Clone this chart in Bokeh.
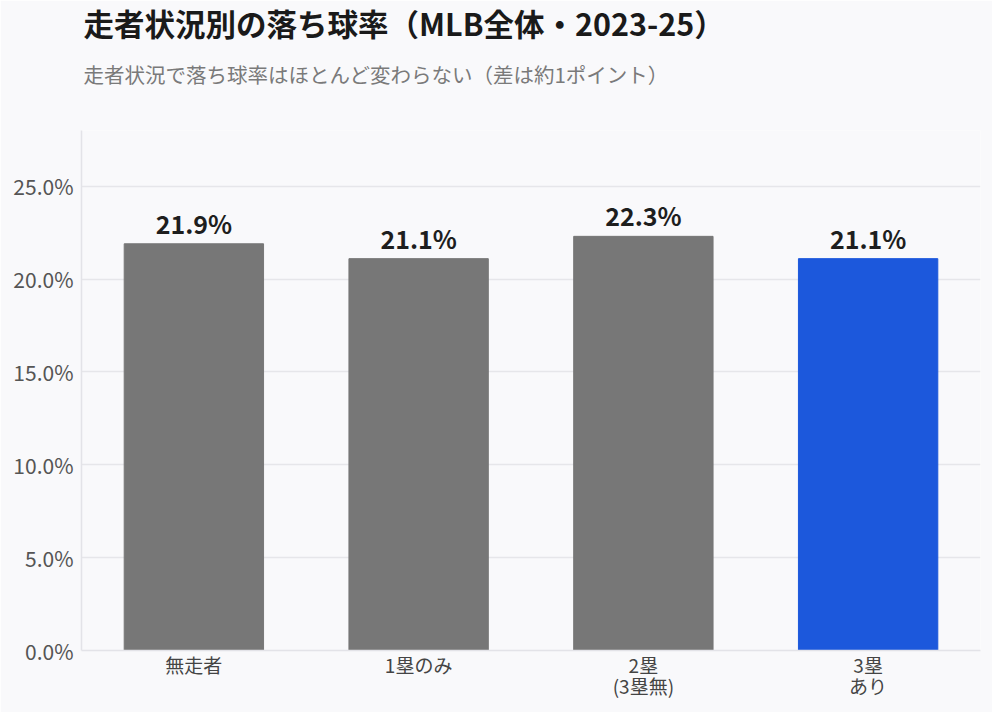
from bokeh.plotting import figure
from bokeh.models import ColumnDataSource, FixedTicker, PrintfTickFormatter, Title, Range1d
from bokeh.embed import file_html
from bokeh.resources import INLINE
from bokeh.core.properties import value

categories = ["無走者", "1塁のみ", "2塁\n(3塁無)", "3塁\nあり"]
rates = [21.9, 21.1, 22.3, 21.1]
colors = ["#777777", "#777777", "#777777", "#1c58dc"]
labels = ["21.9%", "21.1%", "22.3%", "21.1%"]
y_ticks = [0, 5, 10, 15, 20, 25]

title_text = "走者状況別の落ち球率（MLB全体・2023-25）"
subtitle_text = "走者状況で落ち球率はほとんど変わらない（差は約1ポイント）"

FONT = "Noto Sans CJK JP"
BG = "#f9f9fb"

src = ColumnDataSource(dict(cat=categories, rate=rates, color=colors, label=labels))

p = figure(x_range=categories, y_range=Range1d(0, 28), width=992, height=712,
           output_backend="svg", toolbar_location=None, title=None,
           min_border_left=81, min_border_right=12, min_border_bottom=62,
           min_border_top=0)
p.background_fill_color = BG
p.border_fill_color = BG
p.outline_line_color = None

# spacer between subtitle and plot frame
p.add_layout(Title(text=" ", text_font=FONT, text_font_size="1px",
                   text_color=BG, standoff=25), "above")
p.add_layout(Title(text=subtitle_text, text_font=FONT, text_font_size="20.5px",
                   text_color="#7a7a7a", text_font_style="normal", offset=2, standoff=28), "above")
p.add_layout(Title(text=title_text, text_font=FONT, text_font_size="30.5px",
                   text_color="#1a1a1a", text_font_style="bold", offset=2, standoff=-4), "above")

p.vbar(x="cat", top="rate", width=0.62, color="color", source=src)
p.text(x="cat", y="rate", text="label", source=src, text_align="center",
       text_baseline="bottom", y_offset=-3, text_font=value(FONT),
       text_font_size="25px", text_font_style="bold", text_color="#1e1e1e")

p.x_range.range_padding = 0
p.xgrid.grid_line_color = None
p.ygrid.grid_line_color = "#e6e6ea"
p.ygrid.grid_line_width = 1.5
p.yaxis.ticker = FixedTicker(ticks=y_ticks)
p.yaxis.formatter = PrintfTickFormatter(format="%.1f%%")

for ax in (p.xaxis, p.yaxis):
    ax.axis_line_color = "#e3e3e8"
    ax.axis_line_width = 1.5
    ax.major_tick_line_color = None
    ax.minor_tick_line_color = None
    ax.major_tick_out = 0
    ax.major_tick_in = 0
    ax.major_label_text_font = FONT
    ax.major_label_text_color = "#555555"
p.yaxis.major_label_text_font_size = "21px"
p.xaxis.major_label_text_font_size = "19px"
p.xaxis.major_label_text_line_height = 0.8
p.yaxis.major_label_standoff = 8
p.xaxis.major_label_standoff = 0
p.xaxis.major_label_text_color = "#444444"

open("out.html", "w").write(file_html(p, INLINE))
